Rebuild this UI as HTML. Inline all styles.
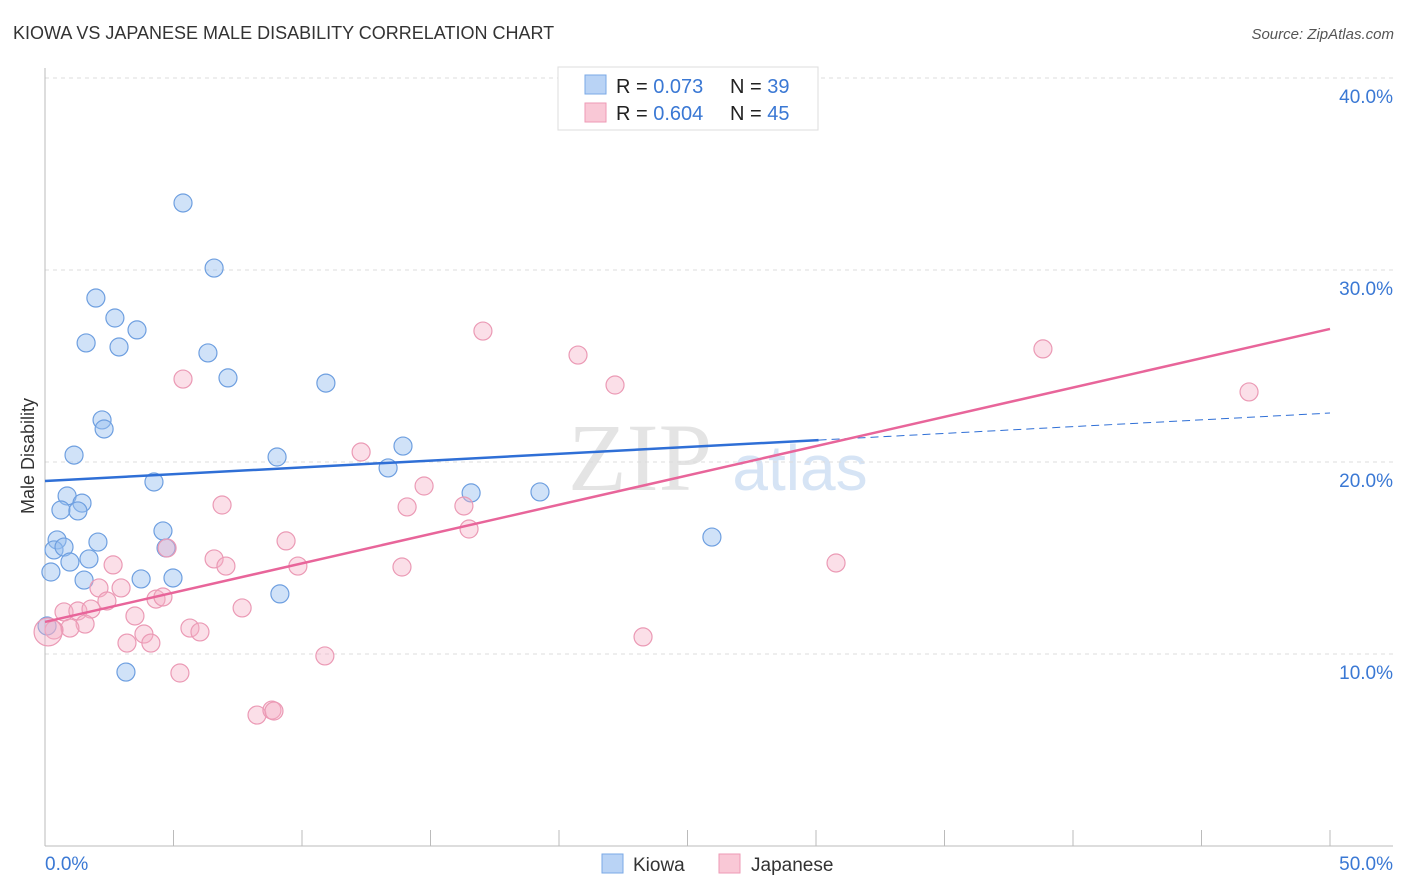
<!DOCTYPE html>
<html><head><meta charset="utf-8"><style>
body{margin:0;background:#fff;font-family:"Liberation Sans",sans-serif;}
svg{display:block}
</style></head><body>
<svg id="chart" width="1406" height="892">
<text x="13" y="39" font-size="18" fill="#333">KIOWA VS JAPANESE MALE DISABILITY CORRELATION CHART</text>
<text x="1394" y="39" font-size="15" fill="#555" font-style="italic" text-anchor="end">Source: ZipAtlas.com</text>
<text x="640" y="490" font-size="96" fill="#e4e4e4" font-family="Liberation Serif,serif" text-anchor="middle">ZIP</text>
<text x="800" y="490" font-size="64" fill="#d6e4f5" text-anchor="middle">atlas</text>
<text transform="translate(34,456) rotate(-90)" font-size="18" fill="#333" text-anchor="middle">Male Disability</text>
<g id="grid"></g><g id="pts"></g><g id="trend"></g>
<g>
<rect x="558" y="67" width="260" height="63" fill="#fff" stroke="#ddd"/>
<rect x="585" y="75" width="21" height="19" fill="#b9d3f5" stroke="#7aa8e6"/>
<rect x="585" y="103" width="21" height="19" fill="#f9c8d6" stroke="#ee9ab5"/>
<text x="616" y="93" font-size="20" fill="#222">R = <tspan fill="#3a78d4">0.073</tspan><tspan x="730">N = </tspan><tspan fill="#3a78d4">39</tspan></text>
<text x="616" y="120" font-size="20" fill="#222">R = <tspan fill="#3a78d4">0.604</tspan><tspan x="730">N = </tspan><tspan fill="#3a78d4">45</tspan></text>
</g>
<g>
<rect x="602" y="854" width="21" height="19" fill="#b9d3f5" stroke="#7aa8e6"/>
<text x="633" y="871" font-size="19" fill="#333">Kiowa</text>
<rect x="719" y="854" width="21" height="19" fill="#f9c8d6" stroke="#ee9ab5"/>
<text x="751" y="871" font-size="19" fill="#333">Japanese</text>
</g>
</svg>
<script>
const blueX=[5.37,6.58,1.98,2.72,3.58,1.60,2.88,6.34,7.12,10.93,2.22,2.30,13.93,1.13,9.03,13.35,4.24,16.58,19.26,0.86,1.44,0.62,1.28,4.59,25.95,0.47,2.06,0.35,0.74,4.71,0.97,1.71,0.23,1.52,3.74,4.98,9.14,3.15,0.08];
const blueY=[33.49,30.10,28.54,27.50,26.88,26.20,25.99,25.68,24.38,24.11,22.19,21.72,20.83,20.36,20.26,19.69,18.96,18.39,18.44,18.23,17.86,17.50,17.45,16.41,16.09,15.94,15.83,15.42,15.57,15.52,14.79,14.95,14.27,13.85,13.91,13.96,13.13,9.06,11.46];
const pinkX=[17.04,20.74,38.83,5.37,22.18,46.85,12.30,14.75,6.89,14.09,16.30,16.50,9.38,4.75,6.58,2.65,7.04,9.84,13.89,30.78,2.10,2.96,4.32,4.59,0.74,1.28,1.79,2.41,7.67,3.50,1.56,0.97,0.35,5.64,6.03,3.85,3.19,4.12,23.27,10.89,5.25,8.25,8.83,8.91,0.12];
const pinkY=[26.82,25.57,25.89,24.32,24.01,23.65,20.52,18.75,17.76,17.66,17.71,16.51,15.89,15.52,14.95,14.64,14.58,14.58,14.53,14.74,13.44,13.44,12.86,12.97,12.19,12.24,12.34,12.76,12.40,11.98,11.56,11.35,11.25,11.35,11.15,11.04,10.57,10.57,10.89,9.90,9.01,6.82,7.08,7.03,11.15];
const blueTrend=[19.01,22.55];
const pinkTrend=[11.67,26.93];
const yTicks=[10,20,30,40];
const xTickLabels=["0.0%","50.0%"];
const NS="http://www.w3.org/2000/svg";
const sx=v=>45+v*25.7, sy=v=>846-v*19.2;
function mk(tag,attrs,parent){const e=document.createElementNS(NS,tag);for(const k in attrs)e.setAttribute(k,attrs[k]);parent.appendChild(e);return e;}
const grid=document.getElementById('grid'),svg=document.getElementById('chart');
yTicks.forEach(t=>{
 const l=mk('line',{x1:45,x2:1393,y1:sy(t),y2:sy(t),stroke:'#ddd','stroke-dasharray':'4,4'},grid);
 
 
 const tx=mk('text',{x:1393,y:sy(t)+25,'font-size':19,fill:'#3a78d4','text-anchor':'end'},grid);
 tx.textContent=t.toFixed(1)+'%';
 
 
});
const ax=mk('line',{x1:45,x2:1393,y1:846,y2:846,stroke:'#bbb'},grid);


const ay=mk('line',{x1:45,x2:45,y1:68,y2:846,stroke:'#bbb'},grid);


for(let i=1;i<=10;i++){const t=mk('line',{x1:sx(i*5),x2:sx(i*5),y1:830,y2:846,stroke:'#bbb'},grid);
 
 }
[[0,'start',45],[50,'end',1393]].forEach((d,i)=>{const t=mk('text',{x:d[2],y:870,'font-size':19,fill:'#3a78d4','text-anchor':d[1]},grid);t.textContent=xTickLabels[i];
 
 });
const pts=document.getElementById('pts');
blueX.forEach((x,i)=>{const c=mk('circle',{cx:sx(x),cy:sy(blueY[i]),r:9,fill:'rgba(150,190,240,0.45)',stroke:'#6e9fe0','stroke-width':1.2},pts);
 
 });
pinkX.forEach((x,i)=>{const c=mk('circle',{cx:sx(x),cy:sy(pinkY[i]),r:i==pinkX.length-1?14:9,fill:'rgba(245,175,198,0.4)',stroke:'#eb9ab5','stroke-width':1.2},pts);
 
 });
const tr=document.getElementById('trend');
const bAt=x=>blueTrend[0]+(blueTrend[1]-blueTrend[0])*x/50;
const l1=mk('line',{x1:sx(0),y1:sy(bAt(0)),x2:sx(30.1),y2:sy(bAt(30.1)),stroke:'#2f6fd6','stroke-width':2.5},tr);


const l2=mk('line',{x1:sx(30.1),y1:sy(bAt(30.1)),x2:sx(50),y2:sy(bAt(50)),stroke:'#2f6fd6','stroke-width':1,'stroke-dasharray':'8,5'},tr);


const l3=mk('line',{x1:sx(0),y1:sy(pinkTrend[0]),x2:sx(50),y2:sy(pinkTrend[1]),stroke:'#e8659a','stroke-width':2.5},tr);


</script>
</body></html>
